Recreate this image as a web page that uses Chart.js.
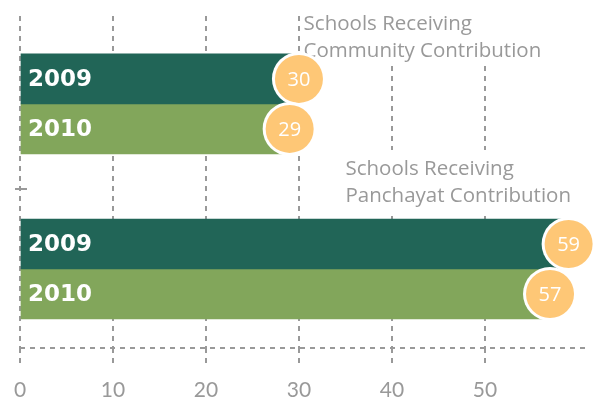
<!DOCTYPE html>
<html>
<head>
<meta charset="utf-8">
<script src="https://cdn.jsdelivr.net/npm/chart.js@4"></script>
<style>
  html, body { margin: 0; padding: 0; background: #fff; }
  #wrap { width: 611px; height: 403px; position: relative; }
</style>
</head>
<body>
<div id="wrap"><canvas id="myChart"></canvas></div>
<script>
// chart values
const groups = [["Schools Receiving", "Community Contribution"], ["Schools Receiving", "Panchayat Contribution"]];
const years = ["2009", "2010"];
const values2009 = [30, 59];
const values2010 = [29, 57];
const xTicks = [0, 10, 20, 30, 40, 50];

const dark = "#216557";
const light = "#82a65b";
const orange = "#fec776";
const grey = "#999999";
const yMin = -0.533, yMax = 1.479;

function toPoints(vals) {
  return vals.map((v, i) => ({ x: v, y: i }));
}

// group titles, white box behind so the grid stops there
const titles = {
  id: "titles",
  beforeDatasetsDraw(chart) {
    const ctx = chart.ctx;
    const xs = chart.scales.x;
    const spots = [
      { x: xs.getPixelForValue(30.5), y1: 30, y2: 57, box: [0, 63] },
      { x: xs.getPixelForValue(35), y1: 175, y2: 202, box: [150, 211] }
    ];
    ctx.save();
    ctx.font = "20.5px 'Open Sans'";
    ctx.textBaseline = "alphabetic";
    ctx.textAlign = "left";
    spots.forEach((s, i) => {
      ctx.fillStyle = "#fff";
      ctx.fillRect(s.x - 3, s.box[0], 270, s.box[1] - s.box[0]);
      ctx.fillStyle = grey;
      ctx.fillText(groups[i][0], s.x, s.y1);
      ctx.fillText(groups[i][1], s.x, s.y2);
    });
    // small separator tick on the left
    const ys = chart.scales.y;
    const yy = Math.round(ys.getPixelForValue(0.5)) + 3;
    ctx.fillStyle = grey;
    ctx.fillRect(chart.chartArea.left - 5, yy - 1, 12, 2);
    ctx.restore();
  }
};

// year labels inside bars and value bubbles at bar ends
const bubbles = {
  id: "bubbles",
  afterDatasetsDraw(chart) {
    const ctx = chart.ctx;
    ctx.save();
    chart.data.datasets.forEach((ds, di) => {
      chart.getDatasetMeta(di).data.forEach((bar, i) => {
        ctx.fillStyle = "#fff";
        ctx.font = "bold 23px 'DejaVu Sans'";
        ctx.textAlign = "left";
        ctx.textBaseline = "middle";
        ctx.fillText(ds.label, chart.chartArea.left + 8, bar.y + 1);

        const cx = bar.x;
        ctx.beginPath();
        ctx.arc(cx, bar.y, 27, 0, Math.PI * 2);
        ctx.fillStyle = "#fff";
        ctx.fill();
        ctx.beginPath();
        ctx.arc(cx, bar.y, 24, 0, Math.PI * 2);
        ctx.fillStyle = orange;
        ctx.fill();
        ctx.fillStyle = "#fff";
        ctx.font = "20px 'Open Sans'";
        ctx.textAlign = "center";
        ctx.fillText(ds.data[i].x, cx, bar.y + 1);
      });
    });
    ctx.restore();
  }
};

const ctx = document.getElementById("myChart").getContext("2d");
const myChart = new Chart(ctx, {
  type: "bar",
  data: {
    datasets: [
      { label: years[0], data: toPoints(values2009), backgroundColor: dark, barThickness: 50 },
      { label: years[1], data: toPoints(values2010), backgroundColor: light, barThickness: 50 }
    ]
  },
  options: {
    indexAxis: "y",
    responsive: true,
    maintainAspectRatio: false,
    animation: false,
    layout: { padding: { left: 20, right: 21, top: 16, bottom: 0 } },
    plugins: {
      legend: { display: false },
      tooltip: { enabled: false }
    },
    scales: {
      y: {
        type: "linear",
        reverse: true,
        offset: false,
        min: yMin,
        max: yMax,
        afterBuildTicks: (scale) => {
          scale.ticks = [{ value: yMax }];
        },
        afterFit: (scale) => { scale.width = 0; },
        ticks: { display: false },
        border: { display: false, dash: [5, 5] },
        grid: {
          offset: false,
          drawTicks: false,
          lineWidth: 2,
          color: (c) => (c.tick && c.tick.value === yMax ? grey : "rgba(0,0,0,0)")
        }
      },
      x: {
        type: "linear",
        min: 0,
        max: 61.3,
        afterBuildTicks: (scale) => {
          scale.ticks = xTicks.map(v => ({ value: v }));
        },
        afterFit: (scale) => { scale.height = 55; },
        border: { display: false, dash: [5, 5] },
        grid: {
          color: grey,
          lineWidth: 2,
          tickLength: 17,
          tickColor: grey,
          tickWidth: 2,
          tickBorderDash: [5, 5]
        },
        ticks: {
          color: grey,
          font: { family: "Lato", size: 21 },
          padding: 13
        }
      }
    }
  },
  plugins: [titles, bubbles]
});
</script>
</body>
</html>
